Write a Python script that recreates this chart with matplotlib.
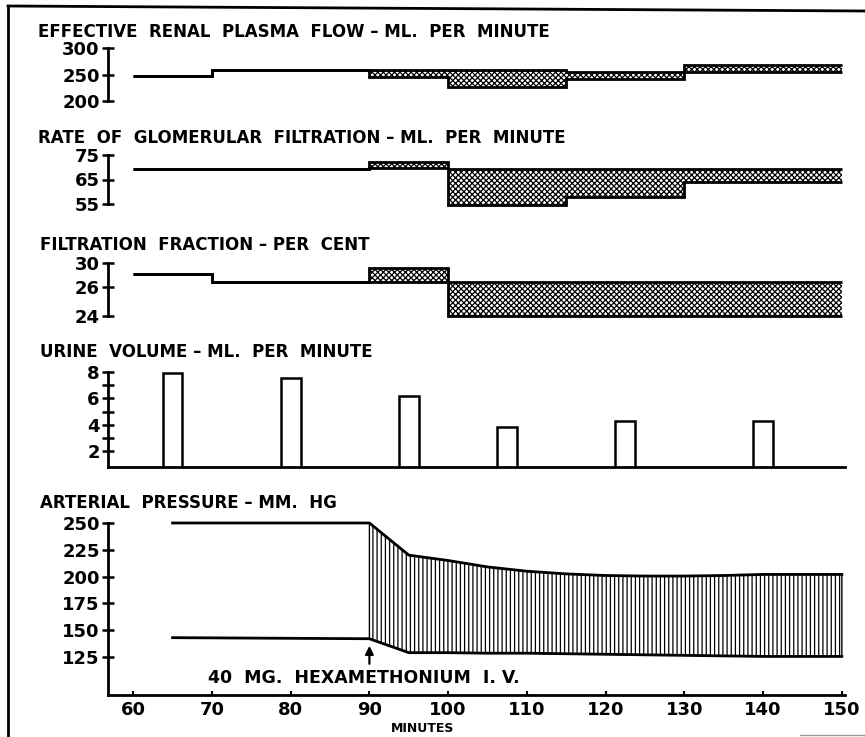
import numpy as np
import matplotlib
matplotlib.use("Agg")
import matplotlib.pyplot as plt
from matplotlib.lines import Line2D

W, H, DPI = 865, 737, 100

# collection periods, minutes
PERIOD_EDGES = [60, 70, 90, 100, 115, 130, 150]

ERPF_HIGH = [247.5, 259.5, 259.5, 258, 255, 269]
ERPF_LOW = [247.5, 259.5, 246, 227, 242, 255]
ERPF_TICKS = [200, 250, 300]

GFR_HIGH = [69.3, 69.3, 72, 69.3, 69.3, 69.3]
GFR_LOW = [69.3, 69.3, 69.5, 54.6, 58, 64.1]
GFR_TICKS = [55, 65, 75]

FF_HIGH = [28.2, 26.85, 29.15, 26.85, 26.85, 26.85]
FF_LOW = [28.2, 26.85, 26.75, 24, 24, 24]
FF_TICKS = [24, 26, 30]

URINE_MIN = [65, 80, 95, 107.5, 122.5, 140]
URINE_VOL = [7.9, 7.5, 6.2, 3.8, 4.3, 4.3]
URINE_TICKS = [2, 4, 6, 8]
URINE_MINOR = [3, 5, 7]

AP_MIN = [65, 90, 95, 100, 105, 110, 115, 120, 125, 130, 135, 140, 145, 150]
AP_SYS = [250, 250, 220, 215, 209, 205, 202.5, 201, 200.5, 200.5, 201, 202, 202, 202]
AP_DIA = [143, 142, 129, 129, 128.5, 128.5, 128, 127.5, 127, 126.5, 126, 125.5, 125.5, 125.5]
AP_TICKS = [125, 150, 175, 200, 225, 250]
INJECTION_MIN = 90

X_TICKS = list(range(60, 151, 10))

TITLES = [
    "EFFECTIVE  RENAL  PLASMA  FLOW – ML.  PER  MINUTE",
    "RATE  OF  GLOMERULAR  FILTRATION – ML.  PER  MINUTE",
    "FILTRATION  FRACTION – PER  CENT",
    "URINE  VOLUME – ML.  PER  MINUTE",
    "ARTERIAL  PRESSURE – MM.  HG",
]

plt.rcParams.update({
    "font.family": "DejaVu Sans",
    "font.weight": "bold",
    "hatch.linewidth": 0.9,
    "hatch.color": "black",
})

XLIM = (56.8, 150.4)
X_LEFT, X_RIGHT = 108, 845   # px


def add_ax(fig, top, bottom):
    return fig.add_axes([X_LEFT / W, 1 - bottom / H,
                         (X_RIGHT - X_LEFT) / W, (bottom - top) / H])


def style_left(ax, ticks, bottom_spine=False):
    for s in ("top", "right"):
        ax.spines[s].set_visible(False)
    ax.spines["bottom"].set_visible(bottom_spine)
    ax.spines["left"].set_linewidth(2.0)
    ax.spines["bottom"].set_linewidth(2.0)
    ax.set_xlim(*XLIM)
    ax.set_yticks(ticks)
    ax.tick_params(axis="y", direction="inout", length=8, width=1.8,
                   labelsize=13, pad=2)
    ax.tick_params(axis="x", bottom=False, labelbottom=False)
    ax.patch.set_alpha(0)


def band_panel(ax, high, low):
    ax.stairs(high, PERIOD_EDGES, baseline=low, fill=True, hatch="xxxxxx",
              facecolor="white", edgecolor="black", linewidth=0,
              clip_on=False)
    ax.stairs(high, PERIOD_EDGES, baseline=None, color="black", lw=2.0,
              clip_on=False)
    ax.stairs(low, PERIOD_EDGES, baseline=None, color="black", lw=2.0,
              clip_on=False)


fig = plt.figure(figsize=(W / DPI, H / DPI), dpi=DPI)

# panel 1 - ERPF
ax1 = add_ax(fig, 48.3, 101)
band_panel(ax1, ERPF_HIGH, ERPF_LOW)
ax1.set_ylim(200, 300)
style_left(ax1, ERPF_TICKS)

# panel 2 - GFR
ax2 = add_ax(fig, 155, 204)
band_panel(ax2, GFR_HIGH, GFR_LOW)
ax2.set_ylim(55, 75)
style_left(ax2, GFR_TICKS)

# panel 3 - filtration fraction (the printed scale is uneven)
ff_knots = [0, 24, 26, 30, 100]
ff_pos = [-24 * 29 / 2, 0, 29, 52.3, 52.3 + 70 * 23.3 / 4]
ax3 = add_ax(fig, 263.3, 315.7)
ax3.set_yscale("function", functions=(
    lambda v: np.interp(v, ff_knots, ff_pos),
    lambda p: np.interp(p, ff_pos, ff_knots)))
band_panel(ax3, FF_HIGH, FF_LOW)
ax3.set_ylim(24, 30)
style_left(ax3, FF_TICKS)

# panel 4 - urine volume
ax4 = add_ax(fig, 371.7, 467.3)
ax4.bar(URINE_MIN, URINE_VOL, width=2.5, facecolor="white",
        edgecolor="black", linewidth=1.8)
ax4.set_ylim(0.8, 8)
style_left(ax4, URINE_TICKS, bottom_spine=True)
ax4.set_yticks(URINE_MINOR, minor=True)
ax4.tick_params(axis="y", which="minor", direction="inout", length=8,
                width=1.8)

# panel 5 - arterial pressure
ax5 = add_ax(fig, 523, 695)
t = np.array(AP_MIN, dtype=float)
after = t >= INJECTION_MIN
ax5.fill_between(t, AP_DIA, AP_SYS, where=after, hatch="||||",
                 facecolor="white", edgecolor="black", linewidth=1.0,
                 clip_on=False)
ax5.plot(AP_MIN, AP_SYS, color="black", lw=2.0, clip_on=False)
ax5.plot(AP_MIN, AP_DIA, color="black", lw=2.0, clip_on=False)
ax5.set_ylim(89.5, 250)
style_left(ax5, AP_TICKS, bottom_spine=True)
ax5.set_xticks(X_TICKS)
ax5.tick_params(axis="x", bottom=True, labelbottom=True, direction="in",
                length=3, width=1.5, labelsize=13, pad=4)
ax5.annotate("", xy=(INJECTION_MIN, 138), xytext=(INJECTION_MIN, 116),
             arrowprops=dict(arrowstyle="-|>", color="black", lw=1.6,
                             mutation_scale=12))
ax5.text(69.5, 105.5, "40  MG.  HEXAMETHONIUM  I. V.", fontsize=12.5,
         ha="left", va="center")

# panel titles
title_pos = [(38, 32), (38, 138), (40, 245), (40, 352), (40, 503)]
for (x, y), s in zip(title_pos, TITLES):
    fig.text(x / W, 1 - y / H, s, fontsize=12, ha="left", va="center")

fig.text(423 / W, 1 - 728 / H, "MINUTES", fontsize=9, ha="center",
         va="center")

# frame of the printed figure
fig.add_artist(Line2D([8 / W, 1], [1 - 6 / H, 1 - 11 / H],
                      transform=fig.transFigure, color="black", lw=2))
fig.add_artist(Line2D([8 / W, 8 / W], [1 - 6 / H, 0],
                      transform=fig.transFigure, color="black", lw=2))
fig.add_artist(Line2D([800 / W, 1], [1 - 735 / H, 1 - 735 / H],
                      transform=fig.transFigure, color="0.6", lw=1))

fig.savefig("out.png", dpi=DPI, facecolor="white")
